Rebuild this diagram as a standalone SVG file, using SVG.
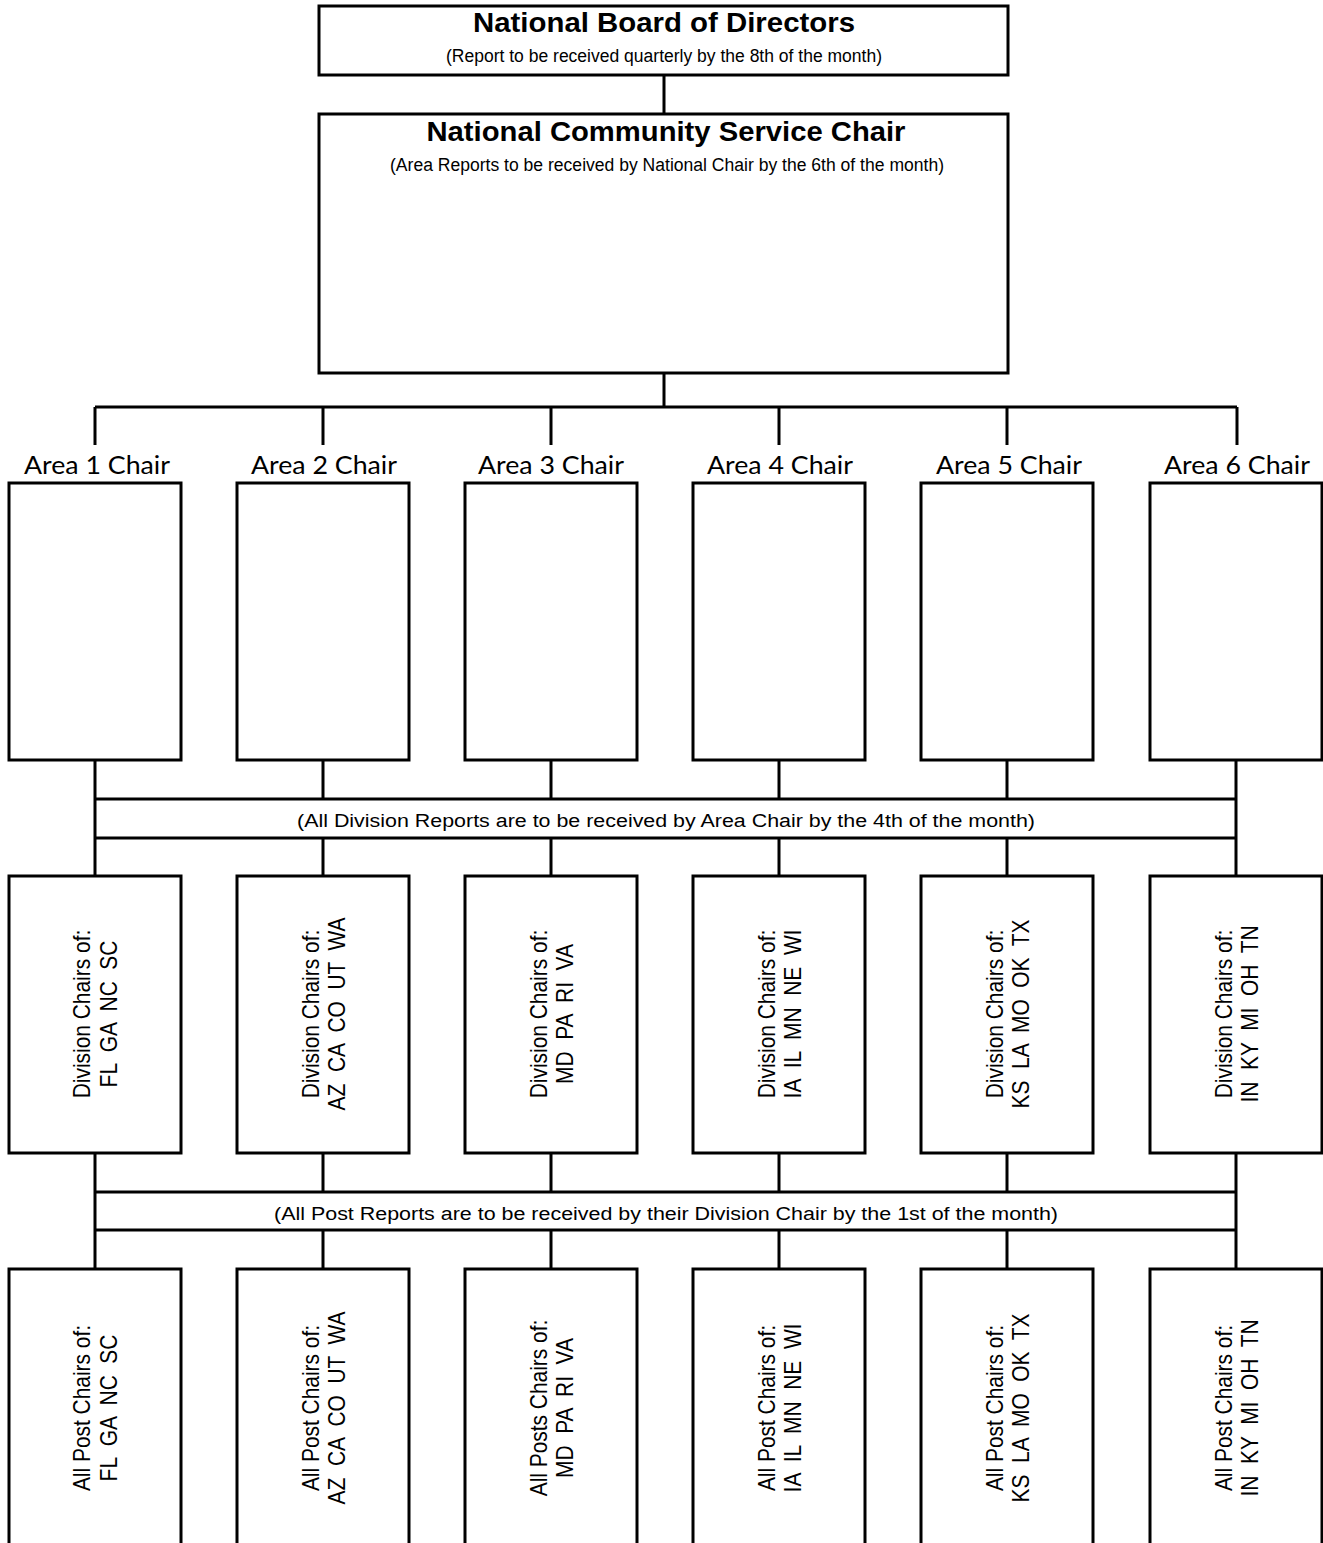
<svg xmlns="http://www.w3.org/2000/svg" width="1323" height="1543" viewBox="0 0 1323 1543">
<style>
.box{fill:#fff;stroke:#000;stroke-width:3}
.ln{fill:none;stroke:#000;stroke-width:3}
.t1{font-family:"Liberation Sans",Arial,sans-serif;font-weight:bold;font-size:27px;text-anchor:middle}
.sub{font-family:"Liberation Sans Narrow","Liberation Sans",Arial,sans-serif;font-size:18px;text-anchor:middle}
.area{font-family:Lato,"Open Sans",sans-serif;font-size:25px;text-anchor:middle}
.rot{font-family:"Liberation Sans",Arial,sans-serif;font-size:23px;text-anchor:middle;white-space:pre}
</style>
<rect width="1323" height="1543" fill="#fff"/>
<g id="connectors">
<path class="ln" d="M664 75V114M664 373V407M95 407H1237M95 407V445M323 407V445M551 407V445M779 407V445M1007 407V445M1237 407V445"/>
<path class="ln" d="M95 760V876M1236 760V876M323 760V799M551 760V799M779 760V799M1007 760V799M323 838V876M551 838V876M779 838V876M1007 838V876M95 799H1236M95 838H1236"/>
<path class="ln" d="M95 1153V1269M1236 1153V1269M323 1153V1192M551 1153V1192M779 1153V1192M1007 1153V1192M323 1230V1269M551 1230V1269M779 1230V1269M1007 1230V1269M95 1192H1236M95 1230H1236"/>
</g>
<g id="band1"><text class="sub" x="666" y="827" textLength="738" lengthAdjust="spacingAndGlyphs">(All Division Reports are to be received by Area Chair by the 4th of the month)</text></g>
<g id="band2"><text class="sub" x="666" y="1220" textLength="784" lengthAdjust="spacingAndGlyphs">(All Post Reports are to be received by their Division Chair by the 1st of the month)</text></g>
<g id="board">
<rect class="box" x="319" y="6" width="689" height="69"/>
<text class="t1" x="664" y="32" textLength="382" lengthAdjust="spacingAndGlyphs">National Board of Directors</text>
<text class="sub" x="664" y="62" textLength="436" lengthAdjust="spacingAndGlyphs">(Report to be received quarterly by the 8th of the month)</text>
</g>
<g id="national">
<rect class="box" x="319" y="114" width="689" height="259"/>
<text class="t1" x="666" y="141" textLength="479" lengthAdjust="spacingAndGlyphs">National Community Service Chair</text>
<text class="sub" x="667" y="171" textLength="554" lengthAdjust="spacingAndGlyphs">(Area Reports to be received by National Chair by the 6th of the month)</text>
</g>
<g id="area1"><text class="area" x="97" y="474" textLength="146" lengthAdjust="spacingAndGlyphs">Area 1 Chair</text><rect class="box" x="9" y="483" width="172" height="277"/></g>
<g id="area2"><text class="area" x="324" y="474" textLength="146" lengthAdjust="spacingAndGlyphs">Area 2 Chair</text><rect class="box" x="237" y="483" width="172" height="277"/></g>
<g id="area3"><text class="area" x="551" y="474" textLength="146" lengthAdjust="spacingAndGlyphs">Area 3 Chair</text><rect class="box" x="465" y="483" width="172" height="277"/></g>
<g id="area4"><text class="area" x="780" y="474" textLength="146" lengthAdjust="spacingAndGlyphs">Area 4 Chair</text><rect class="box" x="693" y="483" width="172" height="277"/></g>
<g id="area5"><text class="area" x="1009" y="474" textLength="146" lengthAdjust="spacingAndGlyphs">Area 5 Chair</text><rect class="box" x="921" y="483" width="172" height="277"/></g>
<g id="area6"><text class="area" x="1237" y="474" textLength="146" lengthAdjust="spacingAndGlyphs">Area 6 Chair</text><rect class="box" x="1150" y="483" width="172" height="277"/></g>
<g id="div1"><rect class="box" x="9" y="876" width="172" height="277"/><text class="rot" transform="translate(95 1014) rotate(-90) scale(0.91 1)"><tspan x="0" y="-5">Division Chairs of:</tspan><tspan x="0" y="22">FL  GA  NC  SC</tspan></text></g>
<g id="div2"><rect class="box" x="237" y="876" width="172" height="277"/><text class="rot" transform="translate(323 1014) rotate(-90) scale(0.91 1)"><tspan x="0" y="-4">Division Chairs of:</tspan><tspan x="0" y="22">AZ  CA  CO  UT  WA</tspan></text></g>
<g id="div3"><rect class="box" x="465" y="876" width="172" height="277"/><text class="rot" transform="translate(551 1014) rotate(-90) scale(0.91 1)"><tspan x="0" y="-4">Division Chairs of:</tspan><tspan x="0" y="22">MD  PA  RI  VA</tspan></text></g>
<g id="div4"><rect class="box" x="693" y="876" width="172" height="277"/><text class="rot" transform="translate(779 1014) rotate(-90) scale(0.91 1)"><tspan x="0" y="-4">Division Chairs of:</tspan><tspan x="0" y="22">IA  IL  MN  NE  WI</tspan></text></g>
<g id="div5"><rect class="box" x="921" y="876" width="172" height="277"/><text class="rot" transform="translate(1007 1014) rotate(-90) scale(0.91 1)"><tspan x="0" y="-4">Division Chairs of:</tspan><tspan x="0" y="22">KS  LA  MO  OK  TX</tspan></text></g>
<g id="div6"><rect class="box" x="1150" y="876" width="172" height="277"/><text class="rot" transform="translate(1236 1014) rotate(-90) scale(0.91 1)"><tspan x="0" y="-4">Division Chairs of:</tspan><tspan x="0" y="22">IN  KY  MI  OH  TN</tspan></text></g>
<g id="post1"><rect class="box" x="9" y="1269" width="172" height="300"/><text class="rot" transform="translate(95 1408) rotate(-90) scale(0.91 1)"><tspan x="0" y="-5">All Post Chairs of:</tspan><tspan x="0" y="22">FL  GA  NC  SC</tspan></text></g>
<g id="post2"><rect class="box" x="237" y="1269" width="172" height="300"/><text class="rot" transform="translate(323 1408) rotate(-90) scale(0.91 1)"><tspan x="0" y="-4">All Post Chairs of:</tspan><tspan x="0" y="22">AZ  CA  CO  UT  WA</tspan></text></g>
<g id="post3"><rect class="box" x="465" y="1269" width="172" height="300"/><text class="rot" transform="translate(551 1408) rotate(-90) scale(0.91 1)"><tspan x="0" y="-4">All Posts Chairs of:</tspan><tspan x="0" y="22">MD  PA  RI  VA</tspan></text></g>
<g id="post4"><rect class="box" x="693" y="1269" width="172" height="300"/><text class="rot" transform="translate(779 1408) rotate(-90) scale(0.91 1)"><tspan x="0" y="-4">All Post Chairs of:</tspan><tspan x="0" y="22">IA  IL  MN  NE  WI</tspan></text></g>
<g id="post5"><rect class="box" x="921" y="1269" width="172" height="300"/><text class="rot" transform="translate(1007 1408) rotate(-90) scale(0.91 1)"><tspan x="0" y="-4">All Post Chairs of:</tspan><tspan x="0" y="22">KS  LA  MO  OK  TX</tspan></text></g>
<g id="post6"><rect class="box" x="1150" y="1269" width="172" height="300"/><text class="rot" transform="translate(1236 1408) rotate(-90) scale(0.91 1)"><tspan x="0" y="-4">All Post Chairs of:</tspan><tspan x="0" y="22">IN  KY  MI  OH  TN</tspan></text></g>
</svg>
